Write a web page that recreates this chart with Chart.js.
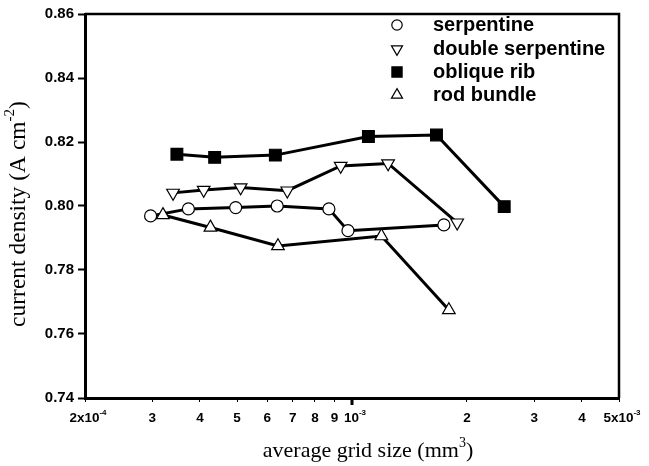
<!DOCTYPE html>
<html>
<head>
<meta charset="utf-8">
<title>current density vs average grid size</title>
<script src="https://cdn.jsdelivr.net/npm/chart.js@4/dist/chart.umd.min.js"></script>
<style>
  html, body { margin: 0; padding: 0; background: #ffffff; }
  #wrap { width: 649px; height: 466px; position: relative; }
</style>
</head>
<body>
<div id="wrap"><canvas id="chart"></canvas></div>
<script>
// ---- data ----
const xTickValues = [2e-4, 3e-4, 4e-4, 5e-4, 6e-4, 7e-4, 8e-4, 9e-4, 1e-3, 2e-3, 3e-3, 4e-3, 5e-3];
// each label: [base text, superscript text]
const xTickLabels = [['2x10', '-4'], ['3', ''], ['4', ''], ['5', ''], ['6', ''], ['7', ''], ['8', ''], ['9', ''],
                     ['10', '-3'], ['2', ''], ['3', ''], ['4', ''], ['5x10', '-3']];
const yTickValues = [0.74, 0.76, 0.78, 0.80, 0.82, 0.84, 0.86];

const seriesNames = ['serpentine', 'double serpentine', 'oblique rib', 'rod bundle'];

const serpentineX = [2.97e-4, 3.73e-4, 4.96e-4, 6.37e-4, 8.70e-4, 9.76e-4, 1.74e-3];
const serpentineY = [0.7969, 0.7991, 0.7995, 0.8000, 0.7991, 0.7923, 0.7941];

const doubleSerpentineX = [3.40e-4, 4.09e-4, 5.11e-4, 6.77e-4, 9.34e-4, 1.243e-3, 1.885e-3];
const doubleSerpentineY = [0.8041, 0.8050, 0.8058, 0.8048, 0.8125, 0.8133, 0.7948];

const obliqueRibX = [3.48e-4, 4.37e-4, 6.30e-4, 1.104e-3, 1.664e-3, 2.503e-3];
const obliqueRibY = [0.8162, 0.8152, 0.8159, 0.8217, 0.8222, 0.7998];

const rodBundleX = [3.20e-4, 4.26e-4, 6.40e-4, 1.194e-3, 1.793e-3];
const rodBundleY = [0.7972, 0.7933, 0.7875, 0.7906, 0.7675];

// ---- styling ----
const SANS = '"Liberation Sans", Arial, sans-serif';
const SERIF = '"Liberation Serif", "Times New Roman", serif';

const pts = (xs, ys) => xs.map((x, i) => ({ x: x, y: ys[i] }));

const markers = [
  { pointStyle: 'circle',   radius: 6.0, rotation: 0,   fill: '#ffffff', legendRadius: 5.2 },
  { pointStyle: 'triangle', radius: 7.3, rotation: 180, fill: '#ffffff', legendRadius: 6.4 },
  { pointStyle: 'rect',     radius: 8.3, rotation: 0,   fill: '#000000', legendRadius: 7.2 },
  { pointStyle: 'triangle', radius: 7.3, rotation: 0,   fill: '#ffffff', legendRadius: 6.4 }
];

const seriesData = [
  pts(serpentineX, serpentineY),
  pts(doubleSerpentineX, doubleSerpentineY),
  pts(obliqueRibX, obliqueRibY),
  pts(rodBundleX, rodBundleY)
];

const datasets = seriesData.map((d, i) => ({
  label: seriesNames[i],
  data: d,
  showLine: true,
  borderColor: '#000000',
  borderWidth: 3,
  pointStyle: markers[i].pointStyle,
  pointRadius: markers[i].radius,
  pointHoverRadius: markers[i].radius,
  pointRotation: markers[i].rotation,
  pointBackgroundColor: markers[i].fill,
  pointBorderColor: '#000000',
  pointBorderWidth: 1.2,
  order: 4 - i
}));

// text with an optional superscript part, centred at (cx, cy)
function drawRich(ctx, base, sup, cx, cy, size, weight, family) {
  const supSize = Math.round(size * 0.62);
  ctx.font = `${weight} ${size}px ${family}`;
  const wb = ctx.measureText(base).width;
  ctx.font = `${weight} ${supSize}px ${family}`;
  const ws = sup ? ctx.measureText(sup).width : 0;
  let x = cx - (wb + ws) / 2;
  ctx.textAlign = 'left';
  ctx.textBaseline = 'middle';
  ctx.font = `${weight} ${size}px ${family}`;
  ctx.fillText(base, x, cy);
  if (sup) {
    ctx.font = `${weight} ${supSize}px ${family}`;
    ctx.fillText(sup, x + wb, cy - size * 0.38);
  }
}

// text made of several runs, some raised as superscripts, centred at (cx, cy)
function drawRuns(ctx, runs, cx, cy, size, weight, family) {
  const supSize = Math.round(size * 0.62);
  let total = 0;
  runs.forEach(r => {
    ctx.font = `${weight} ${r[1] ? supSize : size}px ${family}`;
    total += ctx.measureText(r[0]).width;
  });
  let x = cx - total / 2;
  ctx.textAlign = 'left';
  ctx.textBaseline = 'middle';
  runs.forEach(r => {
    ctx.font = `${weight} ${r[1] ? supSize : size}px ${family}`;
    ctx.fillText(r[0], x, r[1] ? cy - size * 0.36 : cy);
    x += ctx.measureText(r[0]).width;
  });
}

const decorations = {
  id: 'decorations',
  afterDraw(chart) {
    const ctx = chart.ctx;
    const area = chart.chartArea;
    const xs = chart.scales.x;
    const ys = chart.scales.y;
    ctx.save();
    ctx.fillStyle = '#000000';
    ctx.strokeStyle = '#000000';

    // top and right sides of the frame
    ctx.lineWidth = 2.5;
    ctx.beginPath();
    ctx.moveTo(area.left, area.top);
    ctx.lineTo(area.right, area.top);
    ctx.lineTo(area.right, area.bottom);
    ctx.stroke();

    // longer tick at the decade mark
    const px = xs.getPixelForValue(1e-3);
    ctx.lineWidth = 3;
    ctx.beginPath();
    ctx.moveTo(px, area.bottom);
    ctx.lineTo(px, area.bottom + 7);
    ctx.stroke();

    // y tick labels
    ctx.font = `bold 15px ${SANS}`;
    ctx.textAlign = 'right';
    ctx.textBaseline = 'middle';
    yTickValues.forEach(v => {
      ctx.fillText(v.toFixed(2), area.left - 11, ys.getPixelForValue(v));
    });

    // x tick labels
    xTickValues.forEach((v, i) => {
      const lab = xTickLabels[i];
      drawRich(ctx, lab[0], lab[1], xs.getPixelForValue(v) + (lab[1] ? 3 : 0), 418, 13.5, 'bold', SANS);
    });

    // axis titles
    drawRuns(ctx, [['average grid size (mm', false], ['3', true], [')', false]], 368, 451, 22, 'normal', SERIF);
    ctx.save();
    ctx.translate(19, 214);
    ctx.rotate(-Math.PI / 2);
    drawRuns(ctx, [['current density (A cm', false], ['-2', true], [')', false]], 0, 0, 23.5, 'normal', SERIF);
    ctx.restore();

    // legend
    const legendY = [25, 49, 72, 95];
    seriesNames.forEach((name, i) => {
      const m = markers[i];
      ctx.fillStyle = m.fill;
      ctx.strokeStyle = '#000000';
      ctx.lineWidth = 1.2;
      Chart.helpers.drawPoint(ctx, {
        pointStyle: m.pointStyle,
        radius: m.legendRadius,
        rotation: m.rotation,
        borderWidth: 1.2
      }, 397, legendY[i]);
      ctx.fillStyle = '#000000';
      ctx.font = `bold 20px ${SANS}`;
      ctx.textAlign = 'left';
      ctx.textBaseline = 'middle';
      ctx.fillText(name, 433, legendY[i]);
    });

    ctx.restore();
  }
};

new Chart(document.getElementById('chart'), {
  type: 'scatter',
  data: { datasets: datasets },
  options: {
    responsive: true,
    maintainAspectRatio: false,
    animation: false,
    events: [],
    layout: { padding: { top: 14, right: 30, left: 0, bottom: 0 } },
    plugins: {
      legend: { display: false },
      tooltip: { enabled: false }
    },
    scales: {
      x: {
        type: 'logarithmic',
        min: 2e-4,
        max: 5e-3,
        afterBuildTicks: s => { s.ticks = xTickValues.map(v => ({ value: v })); },
        afterFit: s => { s.height = 68; },
        ticks: { display: false },
        grid: {
          drawOnChartArea: false,
          drawTicks: true,
          tickLength: 4,
          tickWidth: 1,
          tickColor: '#000000'
        },
        border: { display: true, color: '#000000', width: 3 }
      },
      y: {
        type: 'linear',
        min: 0.74,
        max: 0.86,
        afterBuildTicks: s => { s.ticks = yTickValues.map(v => ({ value: v })); },
        afterFit: s => { s.width = 85; },
        ticks: { display: false },
        grid: {
          drawOnChartArea: false,
          drawTicks: true,
          tickLength: 7,
          tickWidth: 2,
          tickColor: '#000000'
        },
        border: { display: true, color: '#000000', width: 3 }
      }
    }
  },
  plugins: [decorations]
});
</script>
</body>
</html>
